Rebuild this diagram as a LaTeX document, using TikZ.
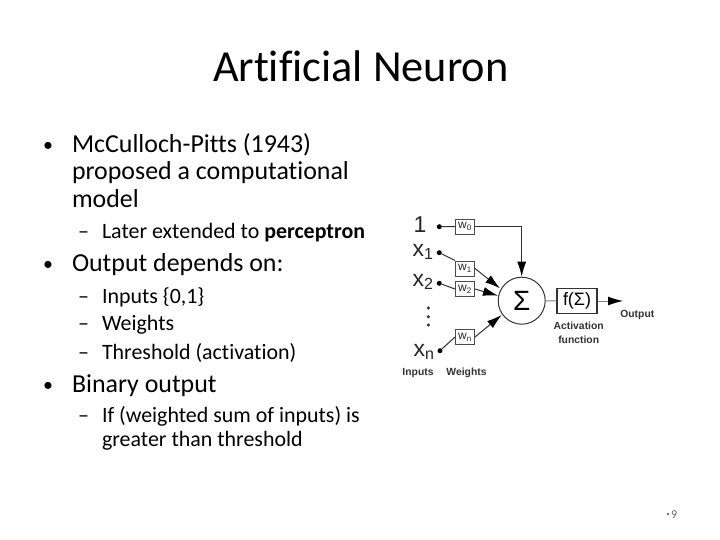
\documentclass[tikz,border=0pt]{standalone}
\usepackage{fontspec}
\setmainfont{Carlito}[Ligatures=NoCommon]
\setsansfont{Liberation Sans}
\usetikzlibrary{arrows.meta}
\tikzset{
  txt/.style={anchor=base west,inner sep=0pt,outer sep=0pt,text=black},
  lvone/.style={txt,font=\fontsize{26}{26}\selectfont},
  lvtwo/.style={txt,font=\fontsize{22}{22}\selectfont},
  bul/.style={txt,font=\fontsize{20}{20}\selectfont},
  wbox/.style={draw=black!70,line width=1pt,fill=white,minimum width=19bp,minimum height=15bp,inner sep=0pt,font=\sffamily\fontsize{12}{12}\selectfont,text=black!85},
  dotn/.style={circle,fill=black,minimum size=5bp,inner sep=0pt},
  inlab/.style={inner sep=0pt,font=\sffamily\fontsize{23}{23}\selectfont,text=black!85},
  caplab/.style={inner sep=0pt,font=\sffamily\bfseries\fontsize{10.4}{14.3}\selectfont,text=black!80,align=center},
  vdot/.style={circle,fill=black!80,minimum size=3.5bp,inner sep=0pt},
  arr/.style={draw=black!80,line width=1pt,-{Latex[length=15bp,width=9bp,color=black]}},
  wire/.style={draw=black!80,line width=1pt},
  gwire/.style={draw=black!50,line width=1pt}
}
\begin{document}
\begin{tikzpicture}[x=1bp,y=-1bp]
\useasboundingbox (0,0) rectangle (720,540);
\fill[white] (0,0) rectangle (720,540);
\node[txt,font=\fontsize{44.5}{44.5}\selectfont] (title) at (213,81.5) {Artificial Neuron};
\node[bul] (b1) at (43,152) {•};
\node[lvone] (t1a) at (72,153) {McCulloch-Pitts (1943)};
\node[lvone] (t1b) at (72,180) {proposed a computational};
\node[lvone] (t1c) at (72,208) {model};
\node[lvtwo] (d2) at (78,239) {–};
\node[lvtwo] (t2) at (102,239) {Later extended to \textbf{perceptron}};
\node[bul] (b3) at (43,271) {•};
\node[lvone] (t3) at (72,272) {Output depends on:};
\node[lvtwo] (d4) at (78,303) {–};
\node[lvtwo] (t4) at (102,303) {Inputs \{0,1\}};
\node[lvtwo] (d5) at (78,330) {–};
\node[lvtwo] (t5) at (102,330) {Weights};
\node[lvtwo] (d6) at (78,359) {–};
\node[lvtwo] (t6) at (102,359) {Threshold (activation)};
\node[bul] (b7) at (43,391) {•};
\node[lvone] (t7) at (72,392) {Binary output};
\node[lvtwo] (d8) at (78,422) {–};
\node[lvtwo] (t8a) at (102,422) {If (weighted sum of inputs) is};
\node[lvtwo] (t8b) at (102,446) {greater than threshold};
\fill[black!55] (666.7,512.7) rectangle (669,515.3);
\node[txt,font=\fontsize{12}{12}\selectfont,text=black!60] (pg) at (671,518) {9};
% neuron
\node[draw=black!80,line width=1pt,circle,minimum size=47bp,inner sep=0pt,font=\sffamily\fontsize{28}{28}\selectfont] (sum) at (521.7,300.7) {Σ};
\node[wbox] (w0) at (465,226.5) {w\textsubscript{0}};
\node[wbox] (w1) at (465,268.5) {w\textsubscript{1}};
\node[wbox] (w2) at (465,289) {w\textsubscript{2}};
\node[wbox] (wn) at (465,337) {w\textsubscript{n}};
\node[draw=black!80,line width=1.2pt,minimum width=40bp,minimum height=25bp,inner sep=0pt,font=\sffamily\fontsize{18}{18}\selectfont] (f) at (577,301) {f(Σ)};
\node[dotn] (p0) at (439.3,226.7) {};
\node[dotn] (p1) at (439.3,252.7) {};
\node[dotn] (p2) at (439.3,283.3) {};
\node[dotn] (pn) at (440,350.7) {};
\node[inlab] (l0) at (420,225) {1};
\node[inlab] (l1) at (423,252) {x\textsubscript{1}};
\node[inlab] (l2) at (423,282) {x\textsubscript{2}};
\node[inlab] (ln) at (424,352) {x\textsubscript{n}};
\node[vdot] (v1) at (428.3,308) {};
\node[vdot] (v2) at (428.3,316.7) {};
\node[vdot] (v3) at (428.3,325) {};
\coordinate (out) at (623,301);
\coordinate (a1) at (500,288.3);
\coordinate (a2) at (498,295.7);
\coordinate (an) at (501.7,315);
\draw[wire] (p0) -- (w0);
\draw[wire] (p1) -- (w1.north west);
\draw[wire] (p2) -- (w2.west);
\draw[wire] (pn) -- (wn.west);
\draw[arr] (w0.east) -| (sum.north);
\draw[arr] (w1.east) -- (a1);
\draw[arr] (w2.east) -- (a2);
\draw[arr] (wn.east) -- (an);
\draw[gwire] (sum) -- (f);
\draw[gwire,-{Latex[length=15bp,width=9bp,color=black]}] (f) -- (out);
\node[caplab] (c1) at (637.3,315) {Output};
\node[caplab] (c2) at (578.7,333) {Activation\\function};
\node[caplab] (c3) at (418,372.7) {Inputs};
\node[caplab] (c4) at (466.5,372.7) {Weights};
\end{tikzpicture}
\end{document}
